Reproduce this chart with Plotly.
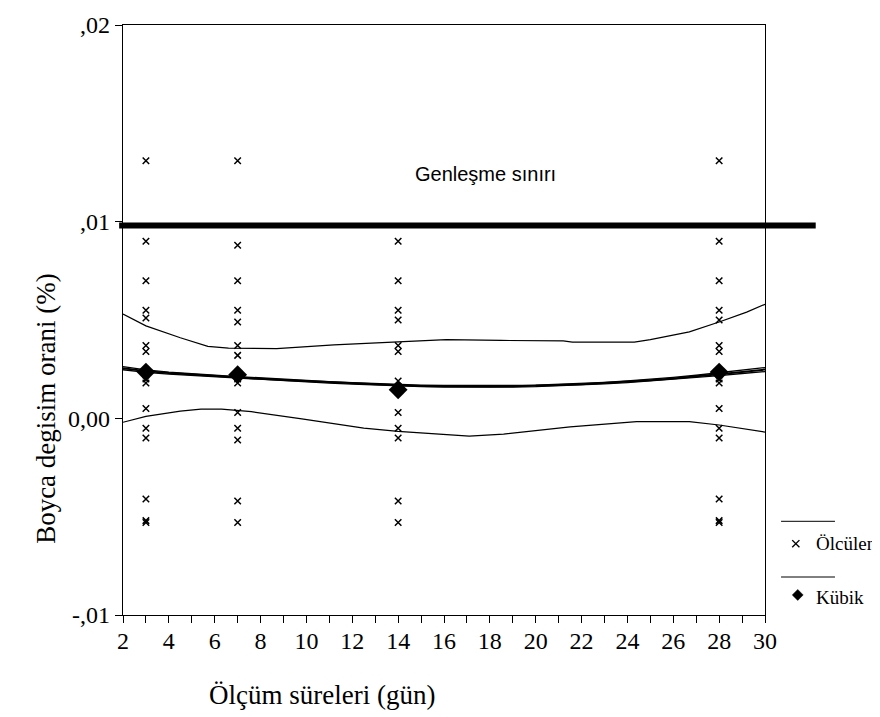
import plotly.graph_objects as go

# ---- data ----
days = [3, 7, 14, 28]
measured_3 = [0.0131, 0.0090, 0.0070, 0.0055, 0.0051, 0.0037, 0.0034, 0.0022, 0.0020, 0.0018,
              0.0005, -0.0005, -0.0010, -0.0041, -0.0052, -0.0053]
measured_7 = [0.0131, 0.0088, 0.0070, 0.0055, 0.0049, 0.0037, 0.0032, 0.0020, 0.0018,
              0.0003, -0.0005, -0.0011, -0.0042, -0.0053]
measured_14 = [0.0090, 0.0070, 0.0055, 0.0050, 0.0037, 0.0034, 0.0019, 0.0016,
               0.0003, -0.0005, -0.0010, -0.0042, -0.0053]
measured_28 = [0.0131, 0.0090, 0.0070, 0.0055, 0.0050, 0.0037, 0.0034, 0.0022, 0.0020, 0.0018,
               0.0005, -0.0005, -0.0010, -0.0041, -0.0052, -0.0053]
cubic_at_days = [0.00235, 0.00222, 0.00145, 0.00235]

curve_x = [2, 3, 4, 5, 6, 7, 8, 9, 10, 11, 12, 13, 14, 15, 16, 17, 18, 19, 20,
           21, 22, 23, 24, 25, 26, 27, 28, 29, 30]
fit_y = [0.00255, 0.00240, 0.00230, 0.00222, 0.00215, 0.00208, 0.00201, 0.00195, 0.00189,
         0.00183, 0.00178, 0.00173, 0.00168, 0.00165, 0.00163, 0.00162, 0.00162, 0.00163,
         0.00165, 0.00169, 0.00173, 0.00179, 0.00186, 0.00194, 0.00203, 0.00213, 0.00224,
         0.00236, 0.00248]
mean_ci_upper = [0.00263, 0.00246, 0.00235, 0.00226, 0.00219, 0.00212, 0.00205, 0.00199, 0.00193,
                 0.00187, 0.00182, 0.00177, 0.00172, 0.00169, 0.00167, 0.00166, 0.00166, 0.00167,
                 0.00169, 0.00173, 0.00177, 0.00183, 0.00190, 0.00198, 0.00208, 0.00219, 0.00231,
                 0.00244, 0.00258]
mean_ci_lower = [0.00247, 0.00234, 0.00225, 0.00218, 0.00211, 0.00204, 0.00197, 0.00191, 0.00185,
                 0.00179, 0.00174, 0.00169, 0.00164, 0.00161, 0.00159, 0.00158, 0.00158, 0.00159,
                 0.00161, 0.00165, 0.00169, 0.00175, 0.00182, 0.00190, 0.00198, 0.00207, 0.00217,
                 0.00228, 0.00238]
upper_bound_x = [2, 3, 4.5, 5.7, 6.6, 8.7, 11.2, 14, 16.1, 18.5, 21.2, 21.6, 24.3, 25, 26.7, 28, 29.2, 30]
upper_bound_y = [0.0053, 0.0047, 0.0041, 0.00366, 0.00357, 0.00354, 0.00374, 0.00388, 0.0040,
                 0.00396, 0.00394, 0.00388, 0.00388, 0.0040, 0.0044, 0.0049, 0.0054, 0.0058]
lower_bound_x = [2, 3, 4.5, 5.4, 6.3, 7.6, 9.8, 12.5, 14, 16.1, 17.1, 18.6, 21.5, 24.4, 26.7, 28, 30]
lower_bound_y = [-0.0002, 0.0001, 0.00037, 0.00047, 0.00047, 0.00034, -0.00003, -0.0005, -0.00066,
                 -0.0008, -0.0009, -0.0008, -0.00043, -0.00017, -0.00017, -0.00034, -0.0007]
limit_value = 0.0098
limit_label = "Genleşme sınırı"
legend_labels = ["Ölcülen", "Kübik"]

x_ticks = list(range(2, 31, 2))
y_tickvals = [-0.01, 0.0, 0.01, 0.02]
y_ticktext = ["-,01", "0,00", ",01", ",02"]

serif = "Liberation Serif, Times New Roman, serif"
sans = "Liberation Sans, Arial, sans-serif"

fig = go.Figure()

fig.add_trace(go.Scatter(x=upper_bound_x, y=upper_bound_y, mode="lines",
                         line=dict(color="black", width=1.2), showlegend=False))
fig.add_trace(go.Scatter(x=lower_bound_x, y=lower_bound_y, mode="lines",
                         line=dict(color="black", width=1.2), showlegend=False))
fig.add_trace(go.Scatter(x=curve_x, y=mean_ci_upper, mode="lines",
                         line=dict(color="black", width=1.3), showlegend=False))
fig.add_trace(go.Scatter(x=curve_x, y=mean_ci_lower, mode="lines",
                         line=dict(color="black", width=1.3), showlegend=False))
fig.add_trace(go.Scatter(x=curve_x, y=fit_y, mode="lines",
                         line=dict(color="black", width=2), showlegend=False))

all_x, all_y = [], []
for d, vals in zip(days, [measured_3, measured_7, measured_14, measured_28]):
    all_x += [d] * len(vals)
    all_y += vals
fig.add_trace(go.Scatter(x=all_x, y=all_y, mode="markers", name=legend_labels[0],
                         marker=dict(symbol="x-thin", size=6.5, color="black",
                                     line=dict(width=1.5, color="black")),
                         showlegend=False))
fig.add_trace(go.Scatter(x=days, y=cubic_at_days, mode="markers", name=legend_labels[1],
                         marker=dict(symbol="diamond", size=14.5, color="black"),
                         showlegend=False))

# limit line (extends a bit beyond the frame)
fig.add_shape(type="line", xref="paper", yref="y", x0=-0.006, x1=1.079,
              y0=limit_value, y1=limit_value, line=dict(color="black", width=6))
fig.add_annotation(x=17.8, y=0.01242, xref="x", yref="y", text=limit_label,
                   showarrow=False, xanchor="center", yanchor="middle",
                   font=dict(family=sans, size=20, color="black"))

# ---- manual legend (paper coordinates, outside the frame) ----
LINE = dict(color="black", width=1)
fig.add_shape(type="line", xref="paper", yref="paper", x0=1.025, x1=1.109, y0=0.1588, y1=0.1588, line=LINE)
fig.add_shape(type="line", xref="paper", yref="paper", x0=1.025, x1=1.109, y0=0.0644, y1=0.0644, line=LINE)
cx, cy, hx, hy = 1.048, 0.1208, 0.0056, 0.0061
fig.add_shape(type="line", xref="paper", yref="paper", x0=cx - hx, x1=cx + hx, y0=cy - hy, y1=cy + hy,
              line=dict(color="black", width=1.4))
fig.add_shape(type="line", xref="paper", yref="paper", x0=cx - hx, x1=cx + hx, y0=cy + hy, y1=cy - hy,
              line=dict(color="black", width=1.4))
dx, dy, rx, ry = 1.051, 0.034, 0.0085, 0.0093
fig.add_shape(type="path", xref="paper", yref="paper",
              path=f"M {dx - rx},{dy} L {dx},{dy + ry} L {dx + rx},{dy} L {dx},{dy - ry} Z",
              fillcolor="black", line=dict(color="black", width=0.5))
fig.add_annotation(x=1.076, y=0.122, xref="paper", yref="paper", text=legend_labels[0], showarrow=False,
                   xanchor="left", yanchor="middle", font=dict(family=serif, size=19, color="black"))
fig.add_annotation(x=1.076, y=0.029, xref="paper", yref="paper", text=legend_labels[1], showarrow=False,
                   xanchor="left", yanchor="middle", font=dict(family=serif, size=19, color="black"))

# axis titles
fig.add_annotation(x=0.31, y=-0.135, xref="paper", yref="paper", text="Ölçüm süreleri (gün)",
                   showarrow=False, xanchor="center", yanchor="middle",
                   font=dict(family=serif, size=27, color="black"))
fig.add_annotation(x=-0.12, y=0.351, xref="paper", yref="paper", text="Boyca degisim orani (%)",
                   showarrow=False, textangle=-90, xanchor="center", yanchor="middle",
                   font=dict(family=serif, size=27, color="black"))

fig.update_layout(
    width=880, height=717,
    margin=dict(l=115, r=123, t=17, b=110),
    plot_bgcolor="white", paper_bgcolor="white",
    font=dict(family=serif, size=24, color="black"),
    xaxis=dict(range=[2, 30], tickvals=x_ticks, ticks="outside", ticklen=7, tickwidth=1,
               tickcolor="black", showgrid=False, zeroline=False, showline=True,
               linecolor="black", linewidth=1.2, mirror=True, automargin=False,
               ticklabelstandoff=-3,
               minor=dict(dtick=1, ticks="outside", ticklen=7, tickcolor="black"),
               tickfont=dict(family=serif, size=24, color="black")),
    yaxis=dict(range=[-0.01, 0.02], tickvals=y_tickvals, ticktext=y_ticktext,
               ticks="outside", ticklen=7, tickcolor="black", showgrid=False,
               zeroline=False, showline=True, linecolor="black", linewidth=1.2, mirror=True,
               automargin=False,
               tickfont=dict(family=serif, size=24, color="black")),
)

fig.write_html("out.html")
